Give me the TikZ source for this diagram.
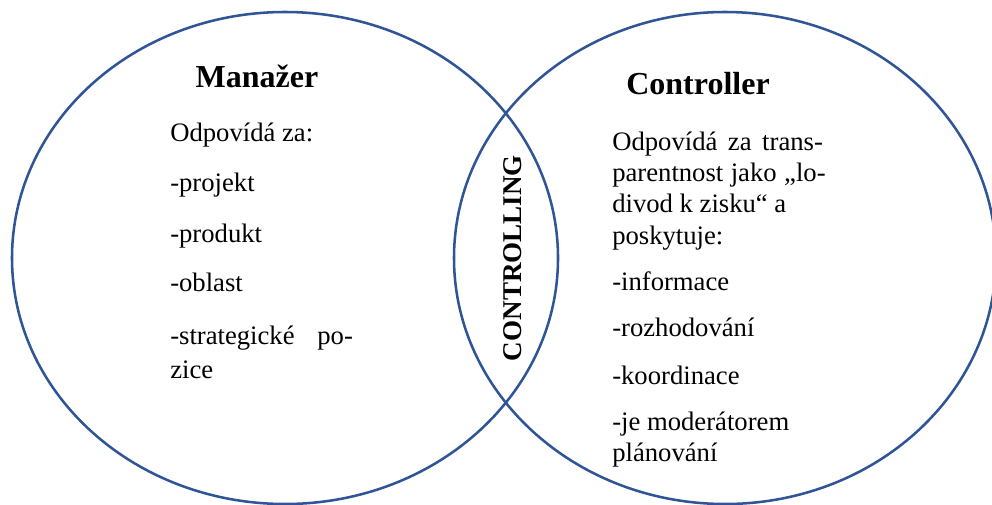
\documentclass[tikz,border=0pt]{standalone}
\usepackage{fontspec}
\setmainfont{Liberation Serif}
\definecolor{ringblue}{RGB}{47,85,151}
\begin{document}
\begin{tikzpicture}[x=0.75pt,y=-0.75pt,
  ring/.style={draw=ringblue,line width=1.9pt},
  heading/.style={font=\fontsize{24}{28}\selectfont\bfseries,inner sep=0pt,anchor=base},
  body/.style={font=\fontsize{20}{24}\selectfont,inner sep=0pt,anchor=base west},
  middle/.style={font=\fontsize{20.3}{24}\selectfont\bfseries,inner sep=0pt,rotate=90}]
\useasboundingbox (0,0) rectangle (992,504);
% the two overlapping circles
\draw[ring] (285,258) ellipse [x radius=273, y radius=246];
\draw[ring] (725,258) ellipse [x radius=271, y radius=246];
% overlap label
\node[middle] (mid) at (513,258) {CONTROLLING};
% left circle
\node[heading] (man) at (257,87) {Manažer};
\node[body] (l1) at (170,141) {Odpovídá za:};
\node[body] (l2) at (170,191) {-projekt};
\node[body] (l3) at (170,242) {-produkt};
\node[body] (l4) at (170,291) {-oblast};
\node[body] (l5) at (170,344) {\hbox to 137pt{-strategické\hfill po-}};
\node[body] (l6) at (170,378) {zice};
% right circle
\node[heading] (con) at (698,94) {Controller};
\node[body] (r1) at (612,150) {\hbox to 158pt{Odpovídá za trans-}};
\node[body] (r2) at (612,181) {\hbox to 160pt{parentnost jako „lo-}};
\node[body] (r3) at (612,212) {divod k zisku“ a};
\node[body] (r4) at (612,244) {poskytuje:};
\node[body] (r5) at (612,290) {-informace};
\node[body] (r6) at (612,336) {-rozhodování};
\node[body] (r7) at (612,384) {-koordinace};
\node[body] (r8) at (612,430) {-je moderátorem};
\node[body] (r9) at (612,461) {plánování};
\end{tikzpicture}
\end{document}
